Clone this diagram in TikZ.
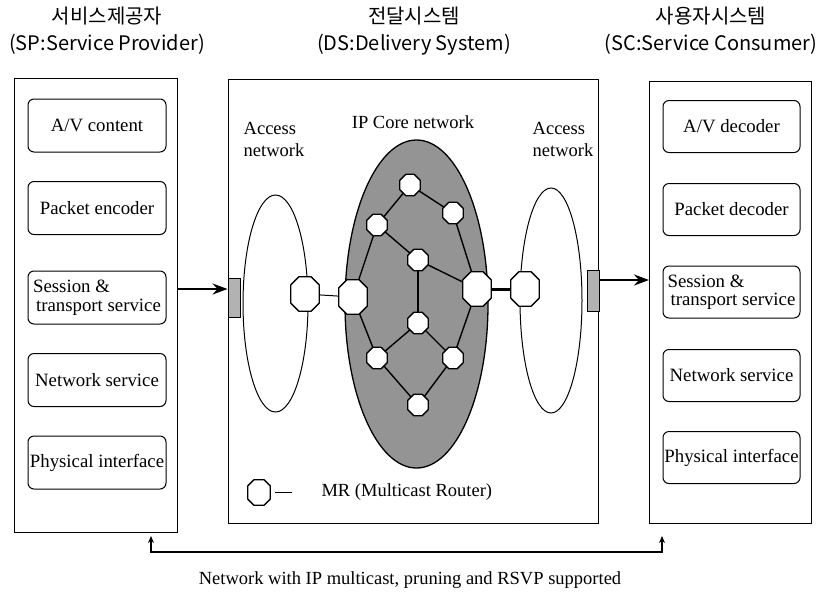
\documentclass[tikz,border=0pt]{standalone}
\usepackage{fontspec}
\setmainfont{Liberation Serif}
\newfontfamily\titlefont{Noto Sans CJK KR}
\usetikzlibrary{shapes.geometric,arrows.meta,calc}

\begin{document}
\begin{tikzpicture}[x=1pt,y=-1pt,
  panel/.style={draw, line width=1pt, inner sep=0pt},
  layer/.style={draw, rounded corners=6pt, line width=1pt, minimum width=138pt,
    minimum height=53pt, inner sep=1pt, align=center,
    font=\fontsize{18.8}{18.5}\selectfont},
  heading/.style={align=center, font=\titlefont\fontsize{20}{27}\selectfont},
  label/.style={align=left, font=\fontsize{18.5}{22}\selectfont},
  access/.style={draw, ellipse, line width=1pt, inner sep=0pt},
  mr/.style={inner sep=0pt, minimum width=20pt, minimum height=21pt},
  mrbig/.style={inner sep=0pt, minimum width=28pt, minimum height=34pt},
  octo/.style={draw, fill=white, line width=1.3pt, line join=round},
  link/.style={line width=1.4pt},
  port/.style={draw, fill=black!30, line width=0.9pt, inner sep=0pt,
    minimum width=12pt, minimum height=40pt},
  flow/.style={line width=2.6pt, -{Stealth[length=15pt,width=11pt,inset=5pt]}},
  fb/.style={line width=1.1pt, {Stealth[length=7pt,width=6pt]}-{Stealth[length=7pt,width=6pt]}}
]
\useasboundingbox (0,0) rectangle (819,598);

% headings
\node[heading] (hsp) at (107,31) {서비스제공자\\(SP:Service Provider)};
\node[heading] (hds) at (414,31) {전달시스템\\(DS:Delivery System)};
\node[heading] (hsc) at (711,31) {사용자시스템\\(SC:Service Consumer)};

% service provider stack
\node[panel, anchor=north west, minimum width=163pt, minimum height=454pt] (sp) at (14,78) {};
\node[layer] (sp1) at (97,125.5) {A/V content};
\node[layer] (sp2) at (97,208) {Packet encoder};
\node[layer, align=left] (sp3) at (97,297.5) {Session \&\\\hspace{3pt}transport service};
\node[layer] (sp4) at (97,380) {Network service};
\node[layer] (sp5) at (97,462.5) {Physical interface};

% service consumer stack
\node[panel, anchor=north west, minimum width=162pt, minimum height=442pt] (sc) at (649,81) {};
\node[layer, minimum width=137pt, minimum height=52pt] (sc1) at (731.5,126.5) {A/V decoder};
\node[layer, minimum width=137pt, minimum height=52pt] (sc2) at (731.5,209.5) {Packet decoder};
\node[layer, minimum width=137pt, minimum height=52pt, align=left] (sc3) at (731.5,292) {Session \&\\\hspace{3pt}transport service};
\node[layer, minimum width=137pt, minimum height=52pt] (sc4) at (731.5,375.5) {Network service};
\node[layer, minimum width=137pt, minimum height=52pt] (sc5) at (731.5,457.5) {Physical interface};

% delivery system
\node[panel, anchor=north west, minimum width=370pt, minimum height=444pt] (ds) at (228,79) {};
\node[access, minimum width=65pt, minimum height=217pt] (accL) at (275.5,303.5) {};
\node[access, minimum width=62pt, minimum height=225pt] (accR) at (551,300.5) {};
\node[draw, ellipse, fill=black!42, line width=1.3pt, inner sep=0pt,
  minimum width=143pt, minimum height=328pt] (core) at (416.5,304) {};

\node[label] (tcore) at (413,122) {IP Core network};
\node[label] (taccL) at (274,139) {Access\\network};
\node[label] (taccR) at (563,139) {Access\\network};

% multicast routers (placement boxes; outlines drawn after the links)
\node[mr] (A) at (410,185) {};
\node[mr] (B) at (377,225) {};
\node[mr] (C) at (453,213) {};
\node[mr] (D) at (418,260) {};
\node[mr] (G) at (418,323) {};
\node[mr] (J) at (377,358) {};
\node[mr] (K) at (453,358) {};
\node[mr] (L) at (418,405) {};
\node[mrbig] (E) at (353,297) {};
\node[mrbig] (F) at (477,289) {};
\node[mrbig] (H) at (305,294) {};
\node[mrbig] (I) at (525,289) {};
\node[inner sep=0pt, minimum width=22pt, minimum height=25pt] (legmr) at (259,492.5) {};

\draw[link] (A.center) -- (B.center);
\draw[link] (A.center) -- (C.center);
\draw[link] (B.center) -- (D.center);
\draw[link] (B.center) -- (E.center);
\draw[link] (C.center) -- (F.center);
\draw[link] (D.center) -- (F.center);
\draw[link] (D.center) -- (G.center);
\draw[link] (E.center) -- (J.center);
\draw[link] (G.center) -- (J.center);
\draw[link] (G.center) -- (K.center);
\draw[link] (F.center) -- (K.center);
\draw[link] (J.center) -- (L.center);
\draw[link] (K.center) -- (L.center);
\draw[line width=1pt] (H.center) -- (E.center);
\draw[line width=3pt] (F.center) -- (I.center);

% octagonal router outlines
\foreach \n/\c in {A/6,B/6,C/6,D/6,G/6,J/6,K/6,L/6,E/8,F/8,H/8,I/8,legmr/6}
  \draw[octo] ($(\n.north west)+(\c,0)$) -- ($(\n.north east)+(-\c,0)$)
    -- ($(\n.north east)+(0,\c)$) -- ($(\n.south east)+(0,-\c)$)
    -- ($(\n.south east)+(-\c,0)$) -- ($(\n.south west)+(\c,0)$)
    -- ($(\n.south west)+(0,-\c)$) -- ($(\n.north west)+(0,\c)$) -- cycle;

% interface ports
\node[port, minimum height=39pt] (inL) at (234,297.5) {};
\node[port, minimum height=41pt] (outR) at (593,290.5) {};

% legend
\coordinate (dashA) at (275,492);
\coordinate (dashB) at (292,492);
\draw[line width=1pt] (dashA) -- (dashB);
\node[label, anchor=west] (legtxt) at (318,492) {MR (Multicast Router)};

% data flow
\draw[flow] ([yshift=8.5pt]inL.west -| sp.east) -- ([yshift=8.5pt]inL.west);
\draw[flow] ([yshift=10.5pt]outR.east) -- ([yshift=10.5pt]outR.east -| sc.west);

% end-to-end network
\coordinate (fbL) at (151,536);
\coordinate (fbR) at (662,536);
\draw[fb] (fbL) -- ++(0,16) -| (fbR);
\node[label] (caption) at (410,580) {Network with IP multicast, pruning and RSVP supported};
\end{tikzpicture}
\end{document}
